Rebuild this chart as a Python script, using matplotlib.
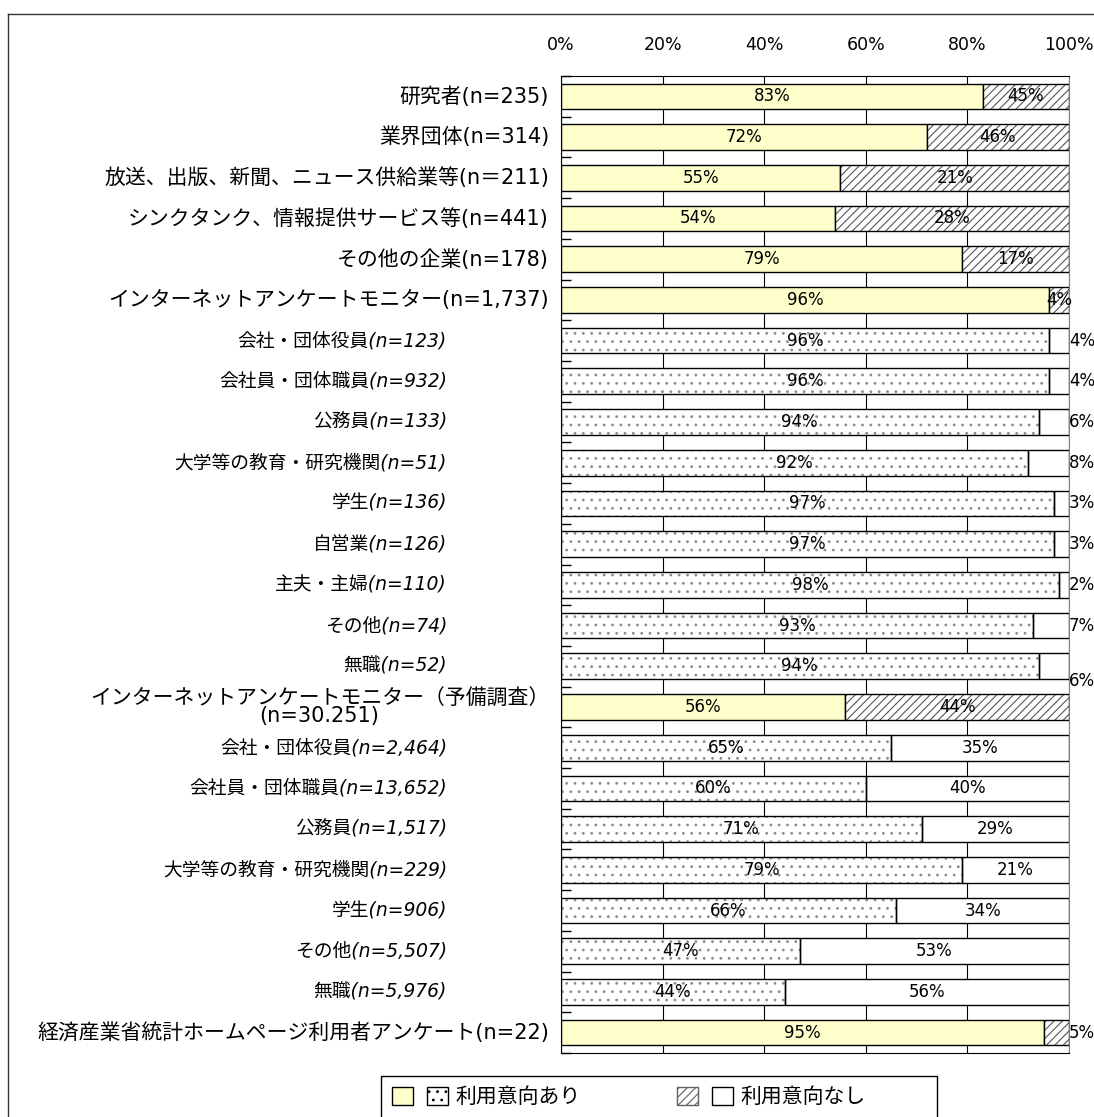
import matplotlib
matplotlib.use('Agg')
import matplotlib.pyplot as plt
import matplotlib.transforms as mtransforms
from matplotlib.patches import Rectangle
from matplotlib.lines import Line2D
from matplotlib.legend_handler import HandlerTuple
import numpy as np

plt.rcParams['font.family'] = ['DejaVu Sans', 'Noto Sans CJK JP']
plt.rcParams['hatch.linewidth'] = 0.8

# data, top row first
labels = ['研究者(n=235)',
          '業界団体(n=314)',
          '放送、出版、新聞、ニュース供給業等(n＝211)',
          'シンクタンク、情報提供サービス等(n=441)',
          'その他の企業(n=178)',
          'インターネットアンケートモニター(n=1,737)',
          '会社・団体役員(n=123)',
          '会社員・団体職員(n=932)',
          '公務員(n=133)',
          '大学等の教育・研究機関(n=51)',
          '学生(n=136)',
          '自営業(n=126)',
          '主夫・主婦(n=110)',
          'その他(n=74)',
          '無職(n=52)',
          'インターネットアンケートモニター（予備調査）\n(n=30.251)',
          '会社・団体役員(n=2,464)',
          '会社員・団体職員(n=13,652)',
          '公務員(n=1,517)',
          '大学等の教育・研究機関(n=229)',
          '学生(n=906)',
          'その他(n=5,507)',
          '無職(n=5,976)',
          '経済産業省統計ホームページ利用者アンケート(n=22)']
yes_vals = [83, 72, 55, 54, 79, 96,
            96, 96, 94, 92, 97, 97, 98, 93, 94,
            56, 65, 60, 71, 79, 66, 47, 44, 95]
no_labels = [45, 46, 21, 28, 17, 4,
             4, 4, 6, 8, 3, 3, 2, 7, 6,
             44, 35, 40, 29, 21, 34, 53, 56, 5]
# 1 = breakdown row under a survey group
is_sub = [0, 0, 0, 0, 0, 0,
          1, 1, 1, 1, 1, 1, 1, 1, 1,
          0, 1, 1, 1, 1, 1, 1, 1, 0]
ticks = [0, 20, 40, 60, 80, 100]
legend_labels = ['利用意向あり', '利用意向なし']

# label placement tweaks
outside = {6, 7, 8, 9, 10, 11, 12, 13, 14, 23}
no_nudge = {14: 0.35}

W, H = 1094, 1117
fig = plt.figure(figsize=(W / 100, H / 100), dpi=100)
ax = fig.add_axes([561 / W, (H - 1053) / H, 508 / W, 977 / H])

y = np.arange(len(labels))
yes = np.array(yes_vals)
sub = np.array(is_sub, dtype=bool)
rest = 100 - yes
bh = 0.63

# main rows: yellow + grey hatch
ax.barh(y[~sub], yes[~sub], height=bh, color='#FFFFCC', edgecolor='black', lw=1, zorder=2)
ax.barh(y[~sub], rest[~sub], left=yes[~sub], height=bh, color='white',
        edgecolor='#555555', hatch='////', lw=0, zorder=2)
ax.barh(y[~sub], rest[~sub], left=yes[~sub], height=bh, fill=False,
        edgecolor='black', lw=1, zorder=3)
# breakdown rows: dotted + white
ax.barh(y[sub], yes[sub], height=bh, color='white', edgecolor='#8c8c8c',
        hatch='..', lw=0, zorder=2)
ax.barh(y[sub], yes[sub], height=bh, fill=False, edgecolor='black', lw=1, zorder=3)
ax.barh(y[sub], rest[sub], left=yes[sub], height=bh, color='white',
        edgecolor='black', lw=1, zorder=2)

for i in range(len(labels)):
    ax.text(yes[i] / 2, i, f'{yes_vals[i]}%', ha='center', va='center',
            fontsize=12, zorder=5)
    if i in outside:
        ax.text(100, i + no_nudge.get(i, 0), f'{no_labels[i]}%', ha='left',
                va='center', fontsize=12, zorder=5, clip_on=False)
    else:
        ax.text((yes[i] + 100) / 2, i, f'{no_labels[i]}%', ha='center',
                va='center', fontsize=12, zorder=5)

main_tr = mtransforms.offset_copy(ax.get_yaxis_transform(), fig=fig, x=-12, y=0, units='dots')
sub_tr = mtransforms.offset_copy(ax.get_yaxis_transform(), fig=fig, x=-114, y=0, units='dots')
for i, lab in enumerate(labels):
    if sub[i]:
        ax.text(0, i, lab, transform=sub_tr, ha='right', va='center',
                fontsize=13.5, style='italic', clip_on=False)
    else:
        ax.text(0, i, lab, transform=main_tr, ha='right', va='center',
                fontsize=15, multialignment='center', linespacing=0.9, clip_on=False)

ax.set_xlim(0, 100)
ax.set_ylim(len(labels) - 0.5, -0.5)
ax.xaxis.tick_top()
ax.set_xticks(ticks)
ax.set_xticklabels([f'{t}%' for t in ticks])
ax.tick_params(axis='x', length=0, pad=16, labelsize=12.5)
ax.set_yticks(np.arange(-0.5, len(labels), 1))
ax.set_yticklabels([])
ax.tick_params(axis='y', direction='in', length=7, width=1)
ax.grid(axis='x', color='black', lw=0.8)
ax.set_axisbelow(True)
for s in ['left', 'top', 'bottom']:
    ax.spines[s].set_color('black')
ax.spines['right'].set_color('#808080')

h1 = Rectangle((0, 0), 1, 1, facecolor='#FFFFCC', edgecolor='black', lw=1)
h2 = Rectangle((0, 0), 1, 1, facecolor='white', edgecolor='black', hatch='..', lw=1)
h3 = Rectangle((0, 0), 1, 1, facecolor='white', edgecolor='#606060', hatch='////', lw=1)
h4 = Rectangle((0, 0), 1, 1, facecolor='white', edgecolor='black', lw=1)
fig.legend(handles=[(h1, h2), (h3, h4)], labels=legend_labels,
           handler_map={tuple: HandlerTuple(ndivide=None, pad=0.67)},
           loc='center left', bbox_to_anchor=(392 / W, 1 - 1097 / H),
           ncol=2, fontsize=15, handlelength=2.7, handleheight=1.0,
           handletextpad=0.35, columnspacing=4.6, frameon=False,
           borderpad=0, borderaxespad=0)
# legend box, runs off the bottom edge
fig.add_artist(Rectangle((381 / W, -0.01), (937 - 381) / W, (1117 - 1076) / H + 0.01,
                         transform=fig.transFigure, fill=False, edgecolor='black', lw=1))

# outer frame of the chart object
fig.add_artist(Line2D([8 / W, 8 / W], [0, 1 - 14 / H], color='#333333', lw=1))
fig.add_artist(Line2D([8 / W, 1], [1 - 14 / H, 1 - 14 / H], color='#333333', lw=1))

fig.savefig('out.png', dpi=100)
